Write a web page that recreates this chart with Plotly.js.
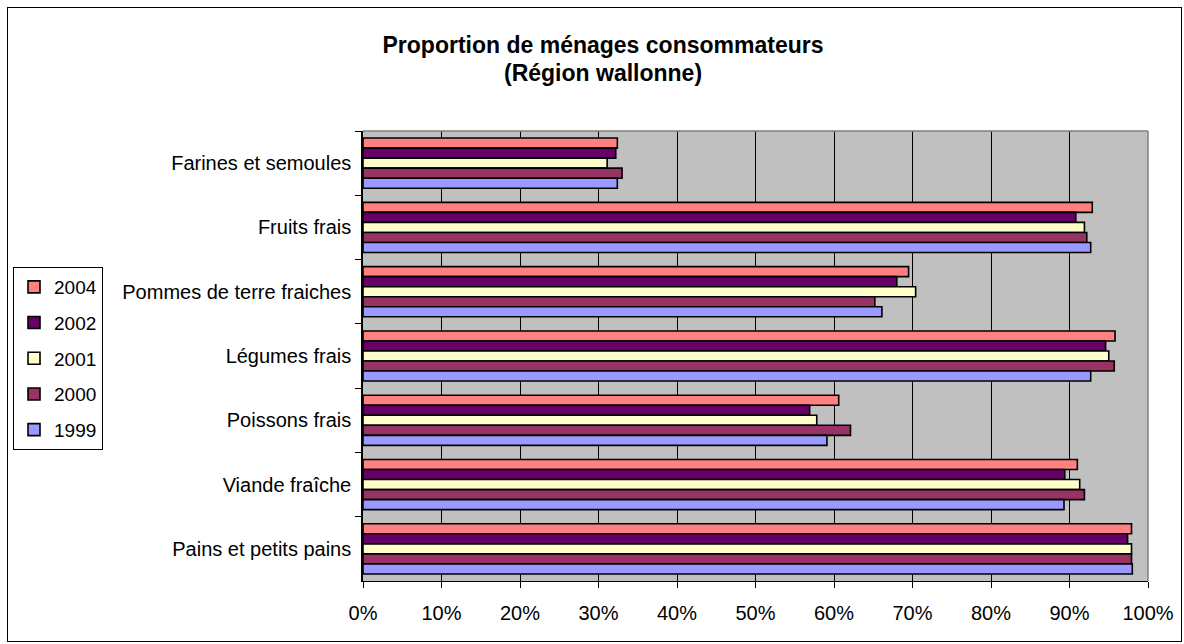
<!DOCTYPE html>
<html>
<head>
<meta charset="utf-8">
<script src="https://cdn.plot.ly/plotly-3.0.1.min.js"></script>
<style>
  html, body { margin: 0; padding: 0; background: #ffffff; }
  #chart { width: 1184px; height: 644px; }
  #frame { position: absolute; left: 7px; top: 7px; width: 1175px; height: 635px; border: 1px solid #000; pointer-events: none; box-sizing: border-box; }
</style>
</head>
<body>
<div id="chart"></div>
<div id="frame"></div>
<script>
// Categories listed from top to bottom as shown
const categories = [
  "Farines et semoules",
  "Fruits frais",
  "Pommes de terre fraiches",
  "Légumes frais",
  "Poissons frais",
  "Viande fraîche",
  "Pains et petits pains"
];
const seriesNames = ["2004", "2002", "2001", "2000", "1999"];
const v2004 = [32.4, 92.9, 69.5, 95.8, 60.6, 91.0, 97.9];
const v2002 = [32.2, 90.8, 68.0, 94.6, 56.9, 89.4, 97.4];
const v2001 = [31.1, 91.9, 70.4, 95.0, 57.8, 91.3, 97.9];
const v2000 = [33.0, 92.2, 65.2, 95.7, 62.1, 91.9, 97.9];
const v1999 = [32.4, 92.7, 66.1, 92.7, 59.1, 89.3, 98.0];
const xTickVals = [0, 10, 20, 30, 40, 50, 60, 70, 80, 90, 100];
const xTickText = ["0%", "10%", "20%", "30%", "40%", "50%", "60%", "70%", "80%", "90%", "100%"];

const seriesValues = [v2004, v2002, v2001, v2000, v1999];
const colors = ["#FF8080", "#660066", "#FFFFCC", "#993366", "#9999FF"];

const traces = seriesNames.map((name, i) => ({
  type: "bar",
  orientation: "h",
  name: name,
  legendgroup: name,
  x: seriesValues[i],
  y: categories,
  marker: { color: colors[i], line: { color: "#000000", width: 1.6 } },
  hoverinfo: "x+y+name"
}));

const font = "Liberation Sans, Arial, Helvetica, sans-serif";

const layout = {
  width: 1184,
  height: 644,
  paper_bgcolor: "#ffffff",
  plot_bgcolor: "#C0C0C0",
  margin: { l: 363, r: 36, t: 131, b: 63, pad: 0 },
  barmode: "group",
  bargap: 0.22,
  bargroupgap: 0,
  font: { family: font, color: "#000000", size: 19 },
  title: {
    text: "<b>Proportion de ménages consommateurs</b>",
    font: { family: font, size: 23, color: "#000000" },
    xref: "container", yref: "container",
    x: 603 / 1184, xanchor: "center",
    y: 1 - 45 / 644, yanchor: "middle"
  },
  annotations: [{
    text: "<b>(Région wallonne)</b>",
    font: { family: font, size: 23, color: "#000000" },
    xref: "paper", yref: "paper",
    x: (603 - 363) / 785, y: (581 - 73) / 450,
    xanchor: "center", yanchor: "middle",
    showarrow: false
  }],
  xaxis: {
    range: [0, 100],
    tickvals: xTickVals,
    ticktext: xTickText,
    showgrid: true,
    gridcolor: "#000000",
    gridwidth: 1,
    zeroline: false,
    showline: true,
    linecolor: "#000000",
    linewidth: 1,
    ticks: "outside",
    ticklen: 6,
    tickcolor: "#000000",
    tickfont: { family: font, size: 20, color: "#000000" },
    ticklabelstandoff: 8,
    fixedrange: true
  },
  yaxis: {
    type: "category",
    categoryorder: "array",
    categoryarray: categories,
    autorange: "reversed",
    showgrid: false,
    zeroline: false,
    showline: true,
    linecolor: "#000000",
    linewidth: 1.5,
    ticks: "outside",
    tickson: "boundaries",
    ticklen: 6,
    tickcolor: "#000000",
    tickfont: { family: font, size: 20, color: "#000000" },
    ticklabelstandoff: 6,
    fixedrange: true
  },
  legend: {
    x: (13 - 363) / 785,
    y: (581 - 267) / 450,
    xanchor: "left",
    yanchor: "top",
    bgcolor: "#ffffff",
    bordercolor: "#000000",
    borderwidth: 1,
    font: { family: font, size: 19, color: "#000000" },
    traceorder: "grouped",
    tracegroupgap: 8,
    itemwidth: 30
  },
  shapes: [
    { type: "line", xref: "paper", yref: "paper", x0: 0, x1: 1, y0: 1, y1: 1, line: { color: "#808080", width: 1.5 } },
    { type: "line", xref: "paper", yref: "paper", x0: 1, x1: 1, y0: 0, y1: 1, line: { color: "#808080", width: 1.5 } }
  ],
  showlegend: true
};

Plotly.newPlot("chart", traces, layout, { displayModeBar: false, staticPlot: false });
</script>
</body>
</html>
